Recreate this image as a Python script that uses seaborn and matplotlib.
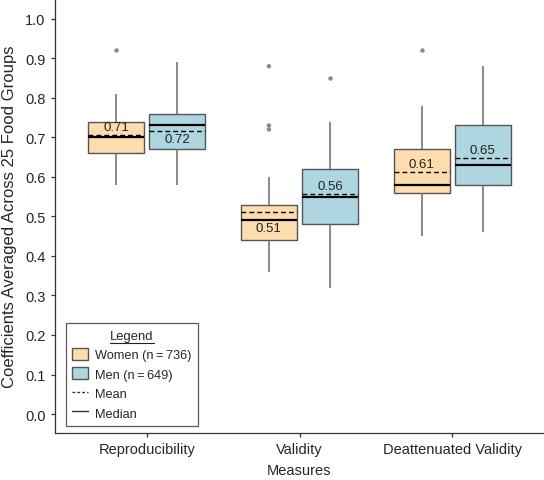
import numpy as np
import pandas as pd
import seaborn as sns
import matplotlib.pyplot as plt
from matplotlib.patches import Patch
from matplotlib.lines import Line2D

measures = ["Reproducibility", "Validity", "Deattenuated Validity"]
sexes = ["Women", "Men"]
legend_labels = ["Women (n\u2009=\u2009736)", "Men (n\u2009=\u2009649)"]

# five-number summaries (whisker low, q1, median, q3, whisker high)
women_low = [0.58, 0.36, 0.45]
women_q1 = [0.66, 0.44, 0.56]
women_med = [0.70, 0.49, 0.58]
women_q3 = [0.74, 0.53, 0.67]
women_high = [0.81, 0.60, 0.78]
women_mean = [0.706, 0.511, 0.613]
women_outliers = [[0.92], [0.88, 0.73, 0.72], [0.92]]

men_low = [0.58, 0.32, 0.46]
men_q1 = [0.67, 0.48, 0.58]
men_med = [0.73, 0.55, 0.63]
men_q3 = [0.76, 0.62, 0.73]
men_high = [0.89, 0.74, 0.88]
men_mean = [0.716, 0.557, 0.648]
men_outliers = [[], [0.85], []]

# where the mean label sits relative to the lines
women_label_side = ["above", "below", "above"]
men_label_side = ["below", "above", "above"]

colors = {"Women": "#FDDCAE", "Men": "#ADD6E0"}

summ = {
    "Women": (women_low, women_q1, women_med, women_q3, women_high),
    "Men": (men_low, men_q1, men_med, men_q3, men_high),
}
rows = []
for sex in sexes:
    for i, m in enumerate(measures):
        for stat in summ[sex]:
            rows.append({"measure": m, "sex": sex, "value": stat[i]})
df = pd.DataFrame(rows)

out_rows = []
for sex, outs in (("Women", women_outliers), ("Men", men_outliers)):
    for i, m in enumerate(measures):
        for v in outs[i]:
            out_rows.append({"measure": m, "sex": sex, "value": v})
df_out = pd.DataFrame(out_rows)

sns.set_style("ticks")
plt.rcParams["font.family"] = ["Liberation Sans", "DejaVu Sans"]

fig = plt.figure(figsize=(5.44, 4.81), dpi=100)
ax = fig.add_axes([55 / 544, 47 / 481, 1 - 55 / 544, 1 - 47 / 481])

sns.boxplot(data=df, x="measure", y="value", hue="sex", order=measures,
            hue_order=sexes, palette=colors, saturation=1, width=0.8, gap=0.08,
            whis=np.inf, showcaps=False, linewidth=1, linecolor="#555555",
            medianprops=dict(color="black", linewidth=1.6),
            whiskerprops=dict(color="#6a6a6a", linewidth=1.1),
            legend=False, ax=ax)

sns.stripplot(data=df_out, x="measure", y="value", hue="sex", order=measures,
              hue_order=sexes, palette={"Women": "#8a8a8a", "Men": "#8a8a8a"},
              dodge=True, jitter=False, size=3.2, legend=False, ax=ax)

# mean lines and labels
half = 0.4 * (1 - 0.08) / 2
for j, (sex, means, meds, sides) in enumerate((
        ("Women", women_mean, women_med, women_label_side),
        ("Men", men_mean, men_med, men_label_side))):
    off = -0.2 if j == 0 else 0.2
    for i in range(len(measures)):
        xc = i + off
        ax.hlines(means[i], xc - half, xc + half, colors="black",
                  linestyles=(0, (3.5, 2.2)), linewidth=1, zorder=5)
        if sides[i] == "above":
            y = max(means[i], meds[i]) + 0.019
        else:
            y = min(means[i], meds[i]) - 0.019
        ax.text(xc, y, f"{means[i]:.2f}", ha="center", va="center",
                fontsize=9.5, color="#222222", zorder=6)

ax.set_xlim(-0.6, 2.6)
ax.set_ylim(-0.048, 1.05)
ax.set_yticks(np.arange(0, 1.01, 0.1))
ax.set_yticklabels([f"{t:.1f}" for t in np.arange(0, 1.01, 0.1)])
ax.set_xlabel("Measures", fontsize=10.5, labelpad=5)
ax.set_ylabel("Coefficients Averaged Across 25 Food Groups", fontsize=12, labelpad=6)
ax.tick_params(axis="both", labelsize=10.5, length=2.8, width=0.9,
               color="#333333", pad=4)
for s in ("top", "right"):
    ax.spines[s].set_visible(False)
for s in ("left", "bottom"):
    ax.spines[s].set_color("#333333")
    ax.spines[s].set_linewidth(0.9)

handles = [
    Patch(facecolor=colors["Women"], edgecolor="#555555", label=legend_labels[0]),
    Patch(facecolor=colors["Men"], edgecolor="#555555", label=legend_labels[1]),
    Line2D([], [], color="#333333", linestyle=(0, (2, 1.5)), linewidth=1, label="Mean"),
    Line2D([], [], color="#333333", linestyle="-", linewidth=1, label="Median"),
]
leg = ax.legend(handles=handles, title="Legend", loc="lower left",
                bbox_to_anchor=(0.0225, 0.016), borderaxespad=0, fontsize=9.2,
                title_fontsize=9.4, frameon=True, fancybox=False,
                edgecolor="#333333", handlelength=1.2, handleheight=1.1,
                handletextpad=0.55, labelspacing=0.47, borderpad=0.5)
leg.get_frame().set_linewidth(0.9)

# underline the legend title
fig.canvas.draw()
bb = leg.get_title().get_window_extent(fig.canvas.get_renderer())
fx0, fy0 = fig.transFigure.inverted().transform((bb.x0, bb.y0 - 1))
fx1, _ = fig.transFigure.inverted().transform((bb.x1, bb.y0 - 1))
fig.add_artist(Line2D([fx0, fx1], [fy0, fy0], color="#222222", linewidth=0.8,
                      transform=fig.transFigure))

plt.savefig("out.png", dpi=100)
